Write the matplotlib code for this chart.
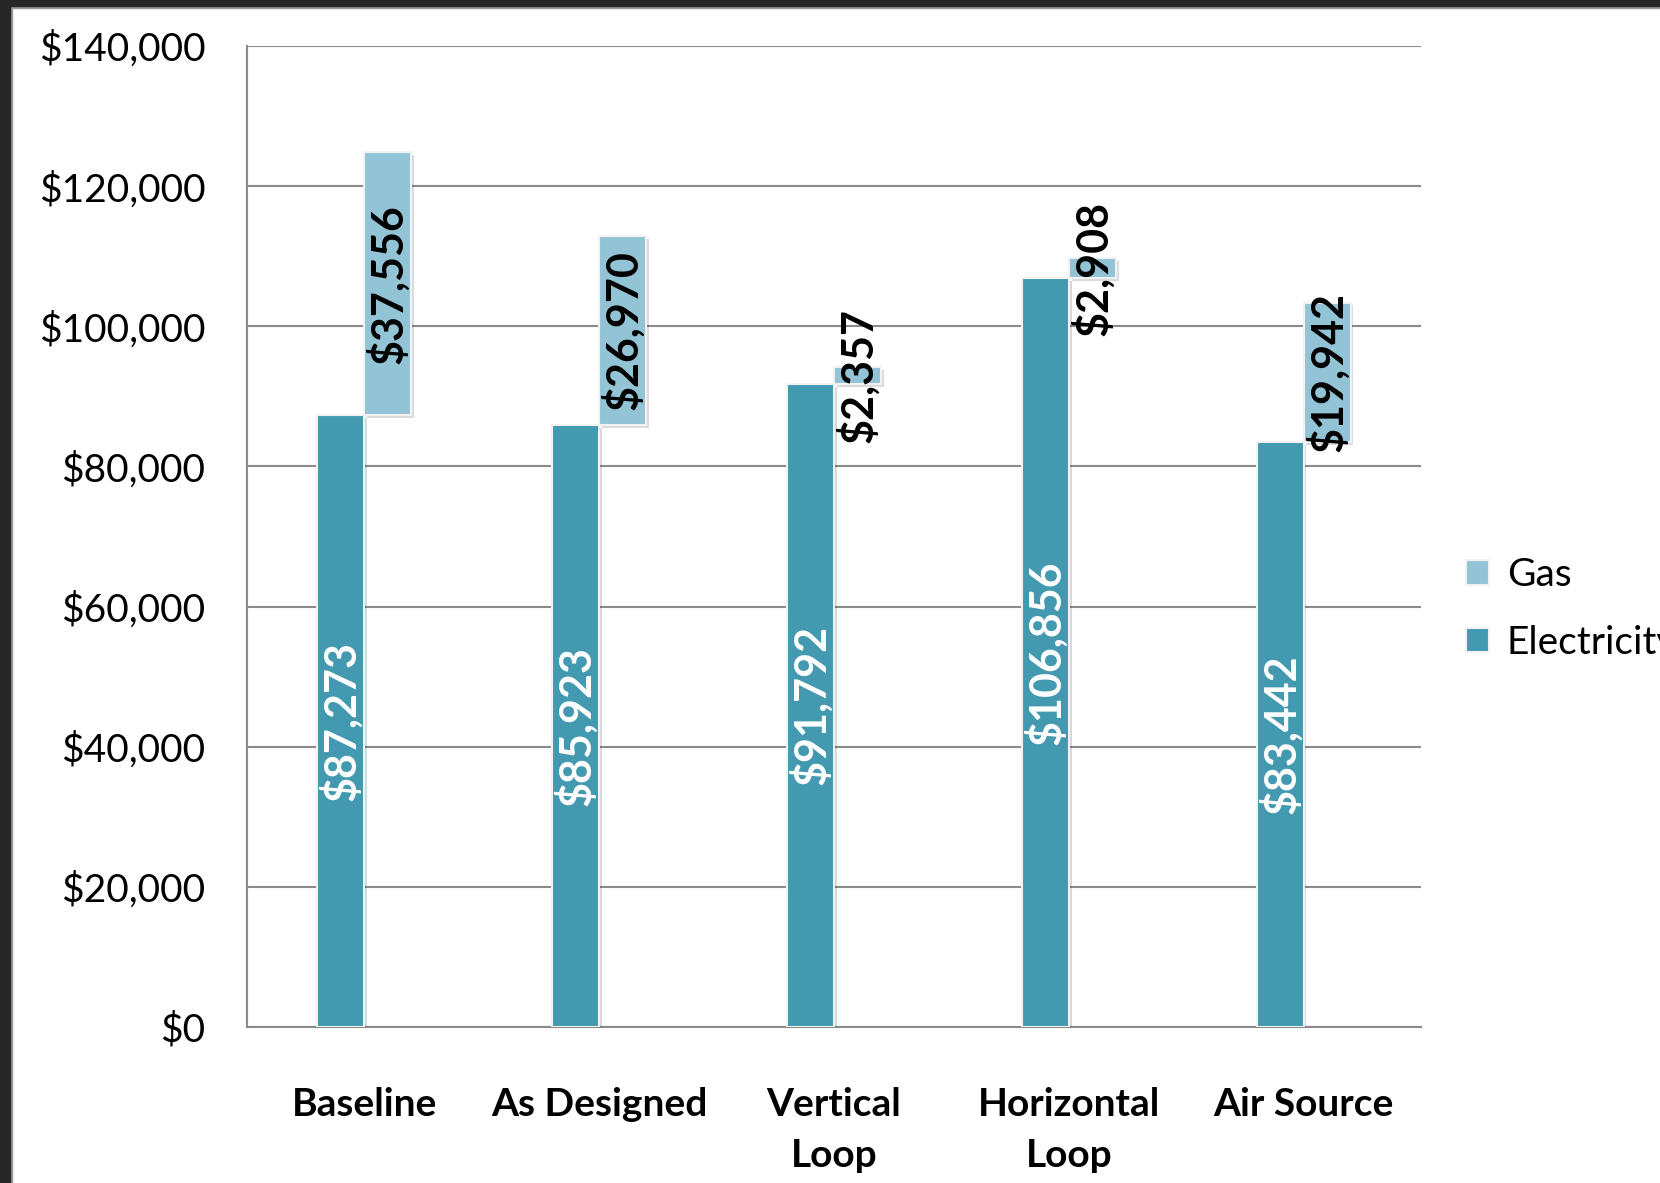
#!/usr/bin/env python3
import matplotlib
matplotlib.use('Agg')
import matplotlib.pyplot as plt
import matplotlib.patheffects as pe
from matplotlib.patches import Rectangle
import numpy as np

plt.rcParams['font.family'] = ['Lato', 'DejaVu Sans']

# Annual energy cost by system option
categories = ['Baseline', 'As Designed', 'Vertical\nLoop', 'Horizontal\nLoop', 'Air Source']
electricity = [87273, 85923, 91792, 106856, 83442]
gas = [37556, 26970, 2357, 2908, 19942]
y_ticks = [0, 20000, 40000, 60000, 80000, 100000, 120000, 140000]

elec_color = '#4399B0'
gas_color = '#93C4D6'
grid_color = '#8A8A8A'

fig = plt.figure(figsize=(16.6, 11.83), dpi=100)
ax = fig.add_axes([0.1488, 0.1319, 0.7072, 0.8292])

x = np.arange(len(categories))
w = 0.2
shadow = [pe.SimplePatchShadow(offset=(2, -2), alpha=0.18), pe.Normal()]

# electricity bar left of centre, gas bar floats to the right on top of it
b_elec = ax.bar(x - w / 2, electricity, w, color=elec_color, edgecolor='#F2F2F2',
                linewidth=1.5, zorder=3, label='Electricity')
b_gas = ax.bar(x + w / 2, gas, w, bottom=electricity, color=gas_color, edgecolor='#F2F2F2',
               linewidth=1.5, zorder=3, label='Gas')
for bars in (b_elec, b_gas):
    for p in bars:
        p.set_path_effects(shadow)

for i in range(len(categories)):
    ax.text(x[i] - w / 2, electricity[i] / 2, f'${electricity[i]:,}', rotation=90,
            ha='center', va='center', color='white', fontsize=31, fontweight='bold', zorder=5)
    ax.text(x[i] + w / 2, electricity[i] + gas[i] / 2, f'${gas[i]:,}', rotation=90,
            ha='center', va='center', color='black', fontsize=31, fontweight='bold', zorder=5)

ax.set_xlim(-0.5, len(categories) - 0.5)
ax.set_ylim(0, 140000)
ax.set_yticks(y_ticks)
ax.set_yticklabels([f'${v:,}' for v in y_ticks], fontsize=28)
ax.set_xticks(x)
ax.set_xticklabels(categories, fontsize=28, fontweight='bold', linespacing=1.55)
ax.tick_params(axis='y', length=0, pad=30)
ax.tick_params(axis='x', length=0, pad=43)

ax.yaxis.grid(True, color=grid_color, linewidth=1.5, zorder=0)
ax.set_axisbelow(True)
for s in ['top', 'right']:
    ax.spines[s].set_visible(False)
for s in ['left', 'bottom']:
    ax.spines[s].set_color(grid_color)
    ax.spines[s].set_linewidth(1.5)

handles = [b_gas, b_elec]
leg = fig.legend(handles, ['Gas', 'Electricity'], loc='center left',
                 bbox_to_anchor=(1466 / 1660, 1 - 609 / 1183), frameon=False,
                 fontsize=28, handlelength=0.6, handleheight=0.6, handletextpad=0.45,
                 labelspacing=0.8, borderpad=0, borderaxespad=0)
for h in leg.legend_handles:
    h.set_path_effects([])
    h.set_edgecolor('#F2F2F2')

# dark slide border on top and left edges
fig.add_artist(Rectangle((0, 1 - 6 / 1183), 1, 6 / 1183, transform=fig.transFigure,
                         color='#262626', zorder=10))
fig.add_artist(Rectangle((0, 1 - 8 / 1183), 1, 2 / 1183, transform=fig.transFigure,
                         color='#9A9A9A', zorder=9))
fig.add_artist(Rectangle((0, 0), 10 / 1660, 1, transform=fig.transFigure,
                         color='#262626', zorder=10))
fig.add_artist(Rectangle((10 / 1660, 0), 2 / 1660, 1 - 6 / 1183, transform=fig.transFigure,
                         color='#9A9A9A', zorder=9))

fig.savefig('out.png', dpi=100)
